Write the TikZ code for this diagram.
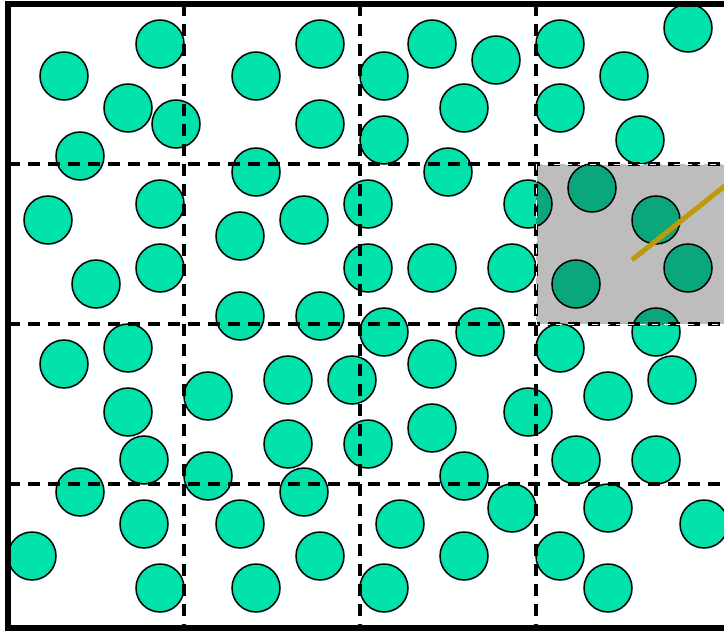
\documentclass[tikz,border=0pt]{standalone}
\usepackage{xcolor}
\definecolor{cellgreen}{RGB}{0,226,170}
\definecolor{celldark}{RGB}{10,166,124}
\definecolor{boxgray}{RGB}{189,189,189}
\definecolor{rodgold}{RGB}{190,154,10}
\usepackage{tikz}
\usetikzlibrary{calc}

\tikzset{
  particle/.style={draw=black, line width=1.5pt, fill=cellgreen},
  gridline/.style={black, line width=3.5pt, dash pattern=on 12pt off 8pt},
}
\def\particles{64/76,160/44,128/108,176/124,80/156,256/76,320/44,320/124,384/76,384/140,432/44,496/60,464/108,560/44,560/108,624/76,640/140,688/28,
48/220,160/204,96/284,160/268,256/172,240/236,304/220,368/204,368/268,448/172,432/268,512/268,528/204,592/188,656/220,576/284,688/268,
64/364,128/348,128/412,240/316,320/316,208/396,288/380,352/380,384/332,480/332,432/364,528/412,560/348,656/332,608/396,672/380,
144/460,80/492,208/476,288/444,368/444,432/428,464/476,304/492,576/460,656/460,
144/524,32/556,160/588,240/524,256/588,320/556,400/524,384/588,464/556,512/508,560/556,608/508,608/588,704/524}

\begin{document}
\begin{tikzpicture}[x=1pt, y=-1pt]

% Frame of the picture
\path[use as bounding box, clip] (0,0) rectangle (724,632);

% Particles
\foreach \px/\py in \particles
  \draw[particle] (\px,\py) circle (24);

% Highlighted cell
\coordinate (cellA) at (536,164);
\coordinate (cellB) at (760,324);
\fill[boxgray] (cellA) rectangle (cellB);
\begin{scope}
  \clip (cellA) rectangle (cellB);
  \foreach \px/\py in \particles
    \draw[particle, fill=celldark] (\px,\py) circle (24);
\end{scope}

% Grid
\foreach \gx in {184,360,536}
  \draw[gridline] (\gx,4) -- (\gx,628);
\foreach \gy in {164,324,484}
  \draw[gridline] (8,\gy) -- (740,\gy);
\draw[white, line width=1pt, dash pattern=on 6pt off 6pt] (cellA) rectangle (cellB);

% Rod
\coordinate (rodA) at (632,260);
\coordinate (rodB) at (746,169);
\draw[rodgold, line width=5pt] (rodA) -- (rodB);

% Outer wall
\draw[black, line width=6pt] (8,4) rectangle (760,628);

\end{tikzpicture}
\end{document}
